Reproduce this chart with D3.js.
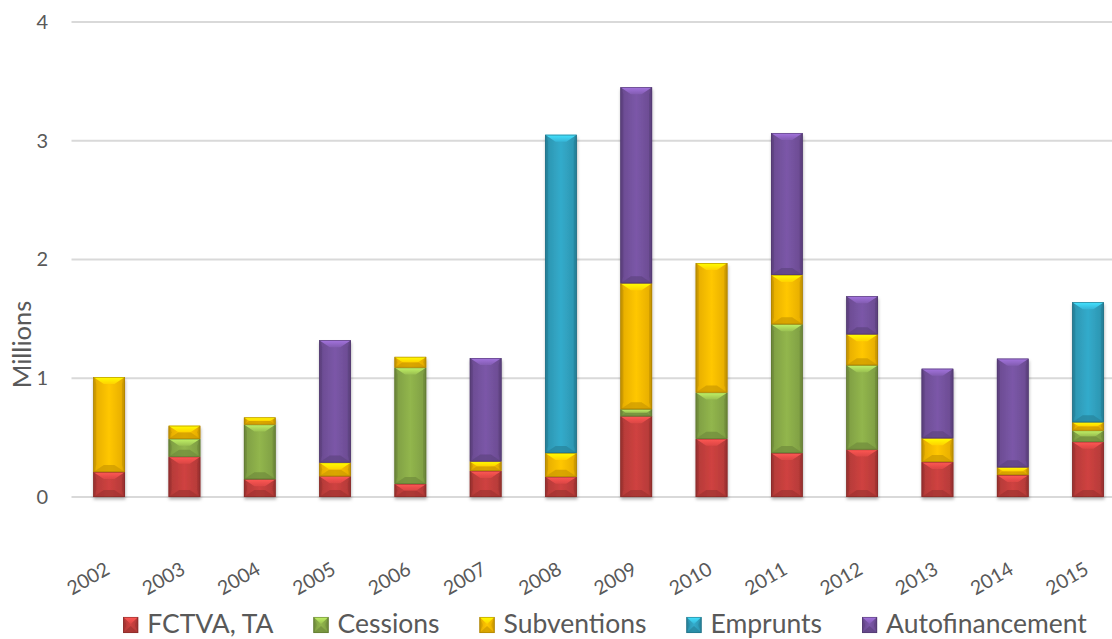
<!DOCTYPE html>
<html>
<head>
<meta charset="utf-8">
<script src="https://cdn.jsdelivr.net/npm/d3@7"></script>
<style>
  html, body { margin: 0; padding: 0; background: #ffffff; }
  svg { display: block; font-family: Lato, "Open Sans", sans-serif; }
</style>
</head>
<body>
<svg id="chart" width="1112" height="639"></svg>
<script>
// Funding sources per year (millions)
const years = ["2002","2003","2004","2005","2006","2007","2008","2009","2010","2011","2012","2013","2014","2015"];
const fctva       = [0.21, 0.34, 0.15, 0.175, 0.11, 0.22, 0.17, 0.68, 0.49, 0.37, 0.40, 0.295, 0.185, 0.465];
const cessions    = [0,    0.15, 0.46, 0,     0.98, 0,    0,    0.06, 0.39, 1.085, 0.71, 0,    0,     0.095];
const subventions = [0.80, 0.11, 0.06, 0.115, 0.09, 0.08, 0.20, 1.06, 1.09, 0.415, 0.26, 0.20, 0.065, 0.07];
const emprunts    = [0,    0,    0,    0,     0,    0,    2.68, 0,    0,    0,     0,    0,    0,     1.01];
const autofin     = [0,    0,    0,    1.03,  0,    0.87, 0,    1.65, 0,    1.195, 0.32, 0.585, 0.915, 0];

const seriesNames = ["FCTVA, TA", "Cessions", "Subventions", "Emprunts", "Autofinancement"];
const seriesValues = [fctva, cessions, subventions, emprunts, autofin];
const seriesColors = ["#C8403E", "#8DB04A", "#FFC000", "#31A5C4", "#7754A2"];
const yTicks = [0, 1, 2, 3, 4];

const svg = d3.select("#chart");
const W = 1112, H = 639;
const textColor = "#595959";

// Table built from the arrays above
const rows = years.map((y, i) => {
  const r = { year: y };
  seriesNames.forEach((s, k) => { r[s] = seriesValues[k][i]; });
  return r;
});
const stacked = d3.stack().keys(seriesNames)(rows);

const x = d3.scaleBand().domain(years).range([71.5, 1125.7]).paddingInner(0.58).paddingOuter(0.29);
const y = d3.scaleLinear().domain([0, 4]).range([497, 22]);

// Gradients for the beveled look
const defs = svg.append("defs");
seriesColors.forEach((c, k) => {
  const base = d3.color(c);
  const body = defs.append("linearGradient").attr("id", "body" + k).attr("x1", 0).attr("x2", 1).attr("y1", 0).attr("y2", 0);
  body.append("stop").attr("offset", "0%").attr("stop-color", base.darker(0.9));
  body.append("stop").attr("offset", "10%").attr("stop-color", base.darker(0.25));
  body.append("stop").attr("offset", "50%").attr("stop-color", base.brighter(0.1));
  body.append("stop").attr("offset", "90%").attr("stop-color", base.darker(0.25));
  body.append("stop").attr("offset", "100%").attr("stop-color", base.darker(0.9));
  const top = defs.append("linearGradient").attr("id", "top" + k).attr("x1", 0).attr("x2", 0).attr("y1", 0).attr("y2", 1);
  top.append("stop").attr("offset", "0%").attr("stop-color", base.brighter(0.9));
  top.append("stop").attr("offset", "100%").attr("stop-color", base.brighter(0.25));
});
const shadow = defs.append("filter").attr("id", "shadow").attr("x", "-20%").attr("y", "-5%").attr("width", "140%").attr("height", "115%");
shadow.append("feDropShadow").attr("dx", 0.5).attr("dy", 2.5).attr("stdDeviation", 1.8)
  .attr("flood-color", "#000").attr("flood-opacity", 0.28);

// Gridlines and y axis labels
const grid = svg.append("g");
grid.selectAll("line").data(yTicks).join("line")
  .attr("x1", 71.5).attr("x2", W)
  .attr("y1", d => y(d)).attr("y2", d => y(d))
  .attr("stroke", "#D9D9D9").attr("stroke-width", 1.8);

const yAxis = d3.axisLeft(y).tickValues(yTicks).tickSize(0).tickPadding(0).tickFormat(d3.format("d"));
const yg = svg.append("g").attr("transform", "translate(48,0)").call(yAxis);
yg.select(".domain").remove();
yg.selectAll("text").attr("fill", textColor).attr("font-size", 20).attr("font-family", "Lato, sans-serif");

svg.append("text")
  .attr("transform", "translate(31,344.5) rotate(-90)")
  .attr("text-anchor", "middle")
  .attr("fill", textColor).attr("font-size", 25.5)
  .text("Millions");

// Beveled block
function bevelBlock(g, bx, by, bw, bh, k) {
  const base = d3.color(seriesColors[k]);
  const d = Math.min(7, bh / 2);
  const inset = Math.min(d * 1.5, bw / 2);
  const side = Math.min(3, bw / 4);
  const blk = g.append("g");
  blk.append("rect").attr("x", bx).attr("y", by).attr("width", bw).attr("height", bh)
    .attr("fill", `url(#body${k})`);
  // bottom face
  blk.append("polygon")
    .attr("points", [[bx, by + bh], [bx + bw, by + bh], [bx + bw - inset, by + bh - d], [bx + inset, by + bh - d]].join(" "))
    .attr("fill", base.darker(0.6)).attr("opacity", 0.75);
  // side faces
  blk.append("polygon")
    .attr("points", [[bx, by], [bx + side, by + d], [bx + side, by + bh - d], [bx, by + bh]].join(" "))
    .attr("fill", base.darker(0.7)).attr("opacity", 0.6);
  blk.append("polygon")
    .attr("points", [[bx + bw, by], [bx + bw - side, by + d], [bx + bw - side, by + bh - d], [bx + bw, by + bh]].join(" "))
    .attr("fill", base.darker(0.7)).attr("opacity", 0.6);
  // top face
  blk.append("polygon")
    .attr("points", [[bx, by], [bx + bw, by], [bx + bw - inset, by + d], [bx + inset, by + d]].join(" "))
    .attr("fill", `url(#top${k})`);
  blk.append("rect").attr("x", bx + 0.3).attr("y", by + 0.3).attr("width", bw - 0.6).attr("height", bh - 0.6)
    .attr("fill", "none").attr("stroke", base.darker(1.2)).attr("stroke-width", 0.7).attr("stroke-opacity", 0.8);
}

// Stacked bars
const bars = svg.append("g").attr("filter", "url(#shadow)");
stacked.forEach((layer, k) => {
  layer.forEach(seg => {
    const v = seg[1] - seg[0];
    if (v <= 0) return;
    const bx = x(seg.data.year);
    const top = y(seg[1]);
    const bh = y(seg[0]) - top;
    bevelBlock(bars, bx, top, x.bandwidth(), bh, k);
  });
});

// Rotated year labels
const xAxis = d3.axisBottom(x).tickSize(0).tickPadding(0);
const xg = svg.append("g").attr("transform", "translate(0,573)").call(xAxis);
xg.select(".domain").remove();
xg.selectAll("text")
  .attr("fill", textColor).attr("font-size", 19.5).attr("font-family", "Lato, sans-serif")
  .attr("text-anchor", "end").attr("dy", 0)
  .attr("transform", "translate(2,0) rotate(-30)");

// Legend
const legend = svg.append("g");
const items = legend.selectAll("g").data(seriesNames).join("g");
items.append("text")
  .attr("fill", textColor).attr("font-size", 26.5)
  .attr("y", 633)
  .text(d => d);
const widths = [];
items.select("text").each(function () { widths.push(this.getComputedTextLength()); });
const mk = 15, gap1 = 9, gap2 = 40;
const total = d3.sum(widths) + seriesNames.length * (mk + gap1) + (seriesNames.length - 1) * gap2;
let cx = 605 - total / 2;
items.each(function (d, i) {
  const g = d3.select(this);
  bevelBlock(g, cx, 617, mk, 16, i);
  g.select("text").attr("x", cx + mk + gap1).raise();
  cx += mk + gap1 + widths[i] + gap2;
});
</script>
</body>
</html>
